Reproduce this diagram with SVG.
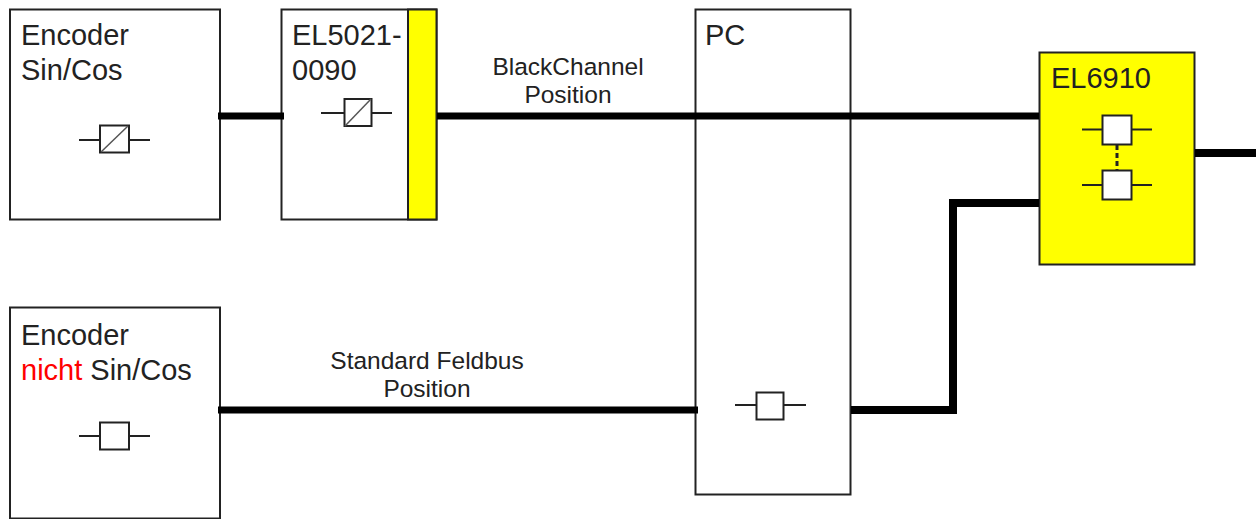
<svg xmlns="http://www.w3.org/2000/svg" width="1257" height="519" viewBox="0 0 1257 519">
<style>
.box{fill:#fff;stroke:#222;stroke-width:2}
.y{fill:#ffff00;stroke:#222;stroke-width:2}
.sym{fill:#fff;stroke:#222;stroke-width:2}
.thin{fill:none;stroke:#222;stroke-width:2}
.diag{fill:none;stroke:#555;stroke-width:1.500}
.wire{fill:none;stroke:#000;stroke-width:7;stroke-linejoin:miter}
.heavy{stroke-width:8}
text{font-family:"Liberation Sans",Arial,sans-serif;fill:#222}
.t{font-size:29px}
.s{font-size:24.500px;text-anchor:middle}
</style>
<rect width="1257" height="519" fill="#fff"/>
<g id="node-encoder-sincos">
<rect class="box" x="10" y="9.500" width="210" height="210"/>
<text class="t" x="21" y="45">Encoder</text>
<text class="t" x="21" y="80">Sin/Cos</text>
<path class="thin" d="M79 140H100M129 140H150"/>
<rect class="sym" x="100" y="125.500" width="29" height="27"/>
<path class="diag" d="M101 152L128 126"/>
</g>
<g id="node-el5021">
<rect class="box" x="281.500" y="9.500" width="155" height="210"/>
<rect class="y" x="408" y="9.500" width="28.500" height="210"/>
<text class="t" x="292" y="45">EL5021-</text>
<text class="t" x="292" y="80">0090</text>
<path class="thin" d="M321 113H344M371 113H392"/>
<rect class="sym" x="344.500" y="99" width="27" height="27"/>
<path class="diag" d="M345 126L371 99"/>
</g>
<g id="node-pc">
<rect class="box" x="695.500" y="9.500" width="155" height="485"/>
<text class="t" x="705" y="45">PC</text>
<path class="thin" d="M735 405H756M783 405H806"/>
<rect class="sym" x="756.500" y="392.500" width="27" height="27"/>
</g>
<g id="node-el6910">
<rect class="y" x="1039.500" y="52.500" width="155" height="212"/>
<text class="t" x="1051" y="88">EL6910</text>
<path class="thin" d="M1082 129.500H1102M1131 129.500H1152M1082 185H1102M1131 185H1152"/>
<path class="thin" d="M1117 145V170" stroke-dasharray="5 3" style="stroke-width:3"/>
<rect class="sym" x="1102.500" y="115.500" width="29" height="29"/>
<rect class="sym" x="1102.500" y="170.500" width="29" height="29"/>
</g>
<g id="node-encoder-nicht">
<rect class="box" x="10" y="307.500" width="210" height="211"/>
<text class="t" x="21" y="345">Encoder</text>
<text class="t" x="21" y="380"><tspan fill="#ff0000">nicht</tspan> Sin/Cos</text>
<path class="thin" d="M79 436H100M129 436H150"/>
<rect class="sym" x="100" y="422.500" width="29" height="27"/>
</g>
<g id="connectors">
<path class="wire" d="M218 116H284"/>
<path class="wire" d="M437 116H1039"/>
<path class="wire" d="M218 410H698"/>
<path class="wire heavy" d="M851 410H953V203H1039"/>
<path class="wire heavy" d="M1195 153H1256"/>
</g>
<g id="labels">
<text class="s" x="568" y="75">BlackChannel</text>
<text class="s" x="568" y="103">Position</text>
<text class="s" x="427" y="369">Standard Feldbus</text>
<text class="s" x="427" y="397">Position</text>
</g>
</svg>
